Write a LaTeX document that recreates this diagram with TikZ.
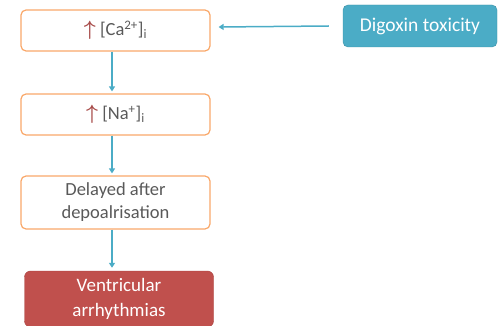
\documentclass[tikz,border=0pt]{standalone}
\usepackage{amsmath}
\usepackage{fontspec}
\setmainfont{Carlito}
\usepackage{tikz}
\usetikzlibrary{arrows.meta}
\definecolor{boxline}{HTML}{F9A86A}
\definecolor{digo}{HTML}{4BACC6}
\definecolor{digoline}{HTML}{3B8FA6}
\definecolor{vent}{HTML}{C0504D}
\definecolor{ventline}{HTML}{A8403D}
\definecolor{uparr}{HTML}{A84C4A}
\definecolor{txt}{HTML}{595959}
\tikzset{stepbox/.style={draw=boxline,line width=1.2pt,rounded corners=5pt,fill=white,
minimum width=189pt,minimum height=41pt,align=center,text=txt,font=\fontsize{18.5}{23}\selectfont,inner sep=2pt},
causebox/.style={draw=digoline,fill=digo,rounded corners=5pt,minimum width=154pt,minimum height=42pt,
text=white,font=\fontsize{19.5}{23}\selectfont}}
\tikzstyle{endbox} = [draw=ventline,fill=vent,rounded corners=6pt,minimum width=189pt,minimum height=56pt,
                      align=center,text=white,font=\fontsize{19}{25}\selectfont,inner sep=2pt]
\tikzstyle{link} = [draw=digo,line width=1.5pt,-{Triangle[length=5pt,width=6pt]}]
\newcommand{\up}{\textcolor{uparr}{\fontsize{22}{22}\selectfont$\boldsymbol{\uparrow}$}\ }

\begin{document}
\begin{tikzpicture}[x=1pt,y=-1pt]
		\useasboundingbox (0,0) rectangle (501,326);
		\node[stepbox] (ca) at (115.5,30.5) {\up[Ca\textsuperscript{2+}]\textsubscript{i}};
		\node[stepbox] (na) at (115.5,114.5) {\up[Na\textsuperscript{+}]\textsubscript{i}};
		\node[stepbox,minimum height=53pt] (dad) at (115.5,202.5) {Delayed after\\depoalrisation};
		\node[endbox] (va) at (119,299) {Ventricular\\arrhythmias};
		\node[causebox] (dig) at (420,26) {Digoxin toxicity};

		\draw[link] ([xshift=-14pt]dig.west) -- ([xshift=8pt,yshift=3.5pt]ca.east);
		\draw[link] ([xshift=-3.5pt]ca.south) -- ([xshift=-3.5pt,yshift=2pt]na.north);
		\draw[link] ([xshift=-3.5pt]na.south) -- ([xshift=-3.5pt,yshift=2pt]dad.north);
		\draw[link] ([xshift=-3.5pt]dad.south) -- ([xshift=-7pt,yshift=3pt]va.north);
	\end{tikzpicture}
\end{document}
